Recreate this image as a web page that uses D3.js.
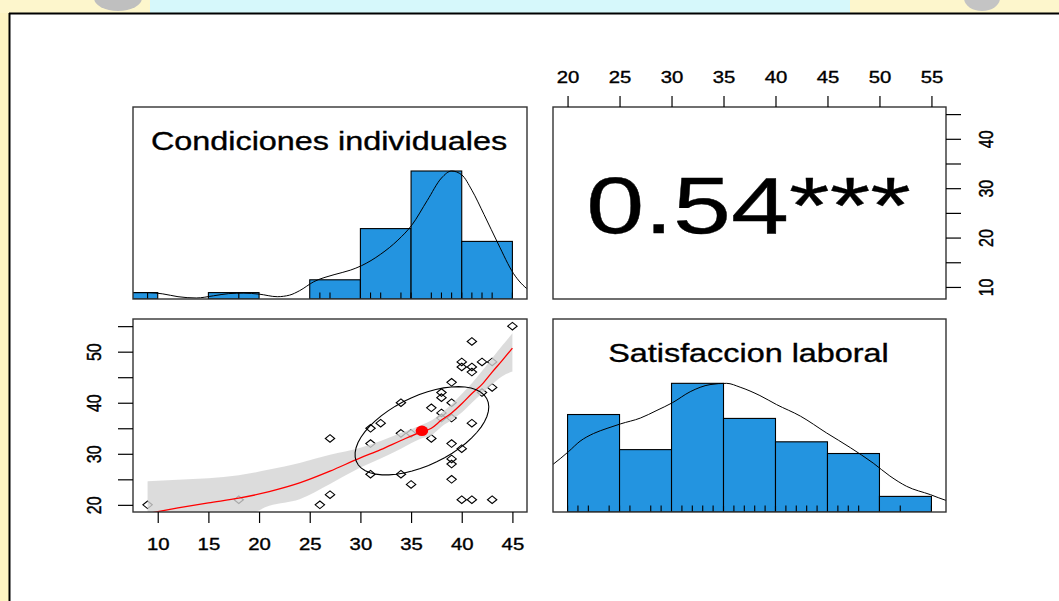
<!DOCTYPE html>
<html><head><meta charset="utf-8">
<script src="https://cdn.jsdelivr.net/npm/d3@7/dist/d3.min.js"></script>
<style>
html,body{margin:0;padding:0;background:#fff;overflow:hidden}
svg{display:block}
text{font-family:"Liberation Sans",Arial,Helvetica,sans-serif;fill:#000;stroke:#000;stroke-width:0.35px}
</style>
</head><body>
<svg id="chart" width="1059" height="601"></svg>
<script>
// ---------------- DATA ----------------
const varNames = ["Condiciones individuales", "Satisfaccion laboral"];
const correlationLabel = "0.54***";

// scatter points: x = Condiciones individuales, y = Satisfaccion laboral
const condX = [9,18,26,27,27,31,31,31,32,34,34,35,34,35,37,37,38,38,38,38,39,39,39,39,39,39,39,40,40,40,41,41,40,41,41,41,42,42,43,43,43,45];
const satY  = [20,21,20,22,33,26,32,35,36,40,34,34,26,24,39,33,42,41,38,37,44,40,37,32,29,28,25,31,48,47,47,46,21,52,36,21,48,42,48,43,21,55];

// histograms (counts per bin)
const condBreaks = [5,10,15,20,25,30,35,40,45];
const condCounts = [3,0,3,0,9,33,60,27];
const satBreaks  = [20,25,30,35,40,45,50,55];
const satCounts  = [25,16,33,24,18,15,4];

// density curves (scaled so the maximum is 1)
const condDensX = [6,7.5,9,10.5,12,13.8,15.5,17,18.5,20,21.8,23,24,25.4,27.4,29,30.1,32,33.7,35.1,36.6,38,39,40,41,42.2,43.6,45.1,46.6,48];
const condDensY = [0.04,0.05,0.05,0.04,0.018,0.008,0.025,0.042,0.046,0.038,0.018,0.03,0.065,0.135,0.19,0.225,0.26,0.35,0.46,0.58,0.77,0.945,1.0,0.97,0.85,0.66,0.43,0.2,0.07,0.02];
const satDensX  = [17,18.6,20.1,21.2,22.5,23.8,25.1,27.0,28.6,30.1,31.8,33.7,35.3,36.6,38.5,40.1,42.4,44.9,47.2,49.4,51.0,52.6,54.9,56.4,58];
const satDensY  = [0.28,0.37,0.47,0.55,0.61,0.65,0.685,0.73,0.79,0.85,0.935,0.99,1.0,0.97,0.905,0.835,0.745,0.615,0.5,0.38,0.28,0.2,0.135,0.09,0.06];

// loess fit with confidence band
const smoothX  = [9,12,15,18,21,24,27,30,32,34,36,37,38,39,40,41,42,43,44,45];
const smoothFit= [18.3,19.4,20.4,21.3,22.6,24.3,26.6,29.2,30.8,32.6,34.3,35.0,36.6,38.0,39.8,41.8,43.6,46.0,48.3,50.7];
const smoothLo = [12.0,14.0,15.8,17.0,19.8,21.1,24.1,27.3,29.1,31.0,33.0,33.6,35.3,36.6,38.1,40.0,41.8,43.6,45.2,46.1];
const smoothHi = [24.6,24.9,25.2,25.8,26.9,28.2,29.8,31.2,32.5,34.1,35.6,36.5,38.0,39.7,41.7,43.8,46.2,48.7,51.2,53.6];

// correlation ellipse: means, standard deviations, r
const ellipseMean = [36.07, 34.5];
const ellipseSD   = [6.6, 8.65];
const ellipseR    = 0.54;

// tick values and labels
const condTicks = [10,15,20,25,30,35,40,45];
const satTicks  = [20,25,30,35,40,45,50,55];
const condRightLabels = [10,20,30,40];
const satLeftLabels   = [20,30,40,50];

// ---------------- LAYOUT ----------------
const W = 1059, H = 601;
const SX = 1.27; // horizontal stretch of the original raster
const panels = {
  tl:{x0:133,x1:527,y0:107,y1:299},
  tr:{x0:553,x1:946,y0:107,y1:299},
  bl:{x0:133,x1:527,y0:319,y1:512},
  br:{x0:553,x1:946,y0:319,y1:512}
};
const svg = d3.select("#chart");

// background (page decoration around the frame)
const bg = svg.append("g");
bg.append("rect").attr("x",0).attr("y",0).attr("width",W).attr("height",H).attr("fill","#fff");
bg.append("rect").attr("x",0).attr("y",0).attr("width",10).attr("height",H).attr("fill","#fdf4c2");
bg.append("rect").attr("x",0).attr("y",0).attr("width",W).attr("height",13).attr("fill","#fdf6cc");
bg.append("rect").attr("x",150).attr("y",0).attr("width",700).attr("height",13).attr("fill","#d6f8fb");
bg.append("ellipse").attr("cx",118).attr("cy",-2).attr("rx",24).attr("ry",13).attr("fill","#bfbfbf");
bg.append("ellipse").attr("cx",982).attr("cy",-2).attr("rx",18).attr("ry",13).attr("fill","#c4c4c4");
// frame
bg.append("line").attr("x1",9).attr("x2",W).attr("y1",13.5).attr("y2",13.5).attr("stroke","#000").attr("stroke-width",2);
bg.append("line").attr("x1",9.5).attr("x2",9.5).attr("y1",13).attr("y2",H).attr("stroke","#000").attr("stroke-width",2);

function padDomain(arr){ const e = d3.extent(arr); const p = (e[1]-e[0])*0.04; return [e[0]-p, e[1]+p]; }
const condDom = padDomain(condX), satDom = padDomain(satY);

const defs = svg.append("defs");
Object.entries(panels).forEach(([k,p])=>{
  defs.append("clipPath").attr("id","clip-"+k).append("rect")
    .attr("x",p.x0).attr("y",p.y0).attr("width",p.x1-p.x0).attr("height",p.y1-p.y0);
});

function stretchedText(g, x, y, txt, size, anchor, sx){
  return g.append("text").attr("transform",`translate(${x},${y}) scale(${sx||SX},1)`)
    .attr("text-anchor",anchor||"middle").attr("font-size",size).text(txt);
}

// ---------------- HISTOGRAM PANELS ----------------
function histPanel(key, dom, breaks, counts, densX, densY, rugVals, title){
  const p = panels[key];
  const x = d3.scaleLinear().domain(dom).range([p.x0,p.x1]);
  const y = d3.scaleLinear().domain([0,1.5]).range([p.y1,p.y0]);
  const maxC = d3.max(counts);
  const g = svg.append("g");
  const gc = g.append("g").attr("clip-path",`url(#clip-${key})`);
  gc.selectAll("rect.bar").data(counts.map((c,i)=>({c,a:breaks[i],b:breaks[i+1]})).filter(d=>d.c>0))
    .join("rect").attr("class","bar")
    .attr("x",d=>x(d.a)).attr("width",d=>x(d.b)-x(d.a))
    .attr("y",d=>y(d.c/maxC)).attr("height",d=>y(0)-y(d.c/maxC))
    .attr("fill","#2394e0").attr("stroke","#000").attr("stroke-width",1.1);
  gc.selectAll("line.rug").data(rugVals).join("line").attr("class","rug")
    .attr("x1",d=>x(d)).attr("x2",d=>x(d)).attr("y1",p.y1).attr("y2",p.y1-6.5)
    .attr("stroke","#000").attr("stroke-width",1.1);
  const line = d3.line().x((d,i)=>x(densX[i])).y(d=>y(d)).curve(d3.curveMonotoneX);
  gc.append("path").attr("d",line(densY)).attr("fill","none").attr("stroke","#000").attr("stroke-width",1);
  stretchedText(g,(p.x0+p.x1)/2 - 1,p.y0+43,title,25.5,"middle");
  g.append("rect").attr("x",p.x0).attr("y",p.y0).attr("width",p.x1-p.x0).attr("height",p.y1-p.y0)
    .attr("fill","none").attr("stroke","#333").attr("stroke-width",1.4);
}
const uniq = a => Array.from(new Set(a)).sort((m,n)=>m-n);
histPanel("tl", condDom, condBreaks, condCounts, condDensX, condDensY, uniq(condX), varNames[0]);
histPanel("br", satDom, satBreaks, satCounts, satDensX, satDensY, uniq(satY), varNames[1]);

// ---------------- SCATTER PANEL ----------------
(function(){
  const p = panels.bl;
  const x = d3.scaleLinear().domain(condDom).range([p.x0,p.x1]);
  const y = d3.scaleLinear().domain(satDom).range([p.y1,p.y0]);
  const g = svg.append("g");
  const gc = g.append("g").attr("clip-path","url(#clip-bl)");
  const diamond = "M0,-3.8L4.7,0L0,3.8L-4.7,0Z";
  gc.selectAll("path.pt").data(condX.map((v,i)=>[v,satY[i]])).join("path").attr("class","pt")
    .attr("d",diamond).attr("transform",d=>`translate(${x(d[0])},${y(d[1])})`)
    .attr("fill","none").attr("stroke","#000").attr("stroke-width",1.1);
  const area = d3.area().x((d,i)=>x(smoothX[i])).y0((d,i)=>y(smoothLo[i])).y1((d,i)=>y(smoothHi[i])).curve(d3.curveMonotoneX);
  gc.append("path").attr("d",area(smoothX)).attr("fill","#d3d3d3").attr("fill-opacity",0.8);
  const fitLine = d3.line().x((d,i)=>x(smoothX[i])).y(d=>y(d)).curve(d3.curveMonotoneX);
  gc.append("path").attr("d",fitLine(smoothFit)).attr("fill","none").attr("stroke","#ff0000").attr("stroke-width",1.3);
  // ellipse (psych::draw.ellipse construction)
  const r = ellipseR, t = Math.sign(r)/Math.SQRT2;
  const a1 = Math.sqrt(1+r), a2 = Math.sqrt(1-r);
  const seg = 51;
  const pts = d3.range(seg+1).map(k=>{
    const ang = k*2*Math.PI/seg, c = Math.cos(ang), s = Math.sin(ang);
    const ex = c*a1*t - s*a2*t, ey = c*a1*t + s*a2*t;
    return [ex*ellipseSD[0]+ellipseMean[0], ey*ellipseSD[1]+ellipseMean[1]];
  });
  gc.append("ellipse").attr("cx",x(ellipseMean[0])).attr("cy",y(ellipseMean[1]))
    .attr("rx",6.3).attr("ry",5.2).attr("fill","#ff0000");
  gc.append("path").attr("d",d3.line().x(d=>x(d[0])).y(d=>y(d[1]))(pts))
    .attr("fill","none").attr("stroke","#000").attr("stroke-width",1.1);
  g.append("rect").attr("x",p.x0).attr("y",p.y0).attr("width",p.x1-p.x0).attr("height",p.y1-p.y0)
    .attr("fill","none").attr("stroke","#333").attr("stroke-width",1.4);

  // bottom axis
  const ax = g.append("g").attr("transform",`translate(0,${p.y1})`)
    .call(d3.axisBottom(x).tickValues(condTicks).tickSize(11).tickFormat(d3.format("d")));
  ax.select(".domain").remove();
  ax.selectAll(".tick line").attr("stroke","#000").attr("stroke-width",1.2);
  ax.selectAll(".tick text").attr("y",null).attr("dy",null).attr("x",null)
    .attr("transform",`translate(0,38) scale(${SX},1)`).attr("font-size",16).attr("font-family",null).attr("fill","#000");
  // left axis
  const ay = g.append("g").attr("transform",`translate(${p.x0},0)`)
    .call(d3.axisLeft(y).tickValues(satTicks).tickSize(15).tickFormat(d=>satLeftLabels.includes(d)?String(d):""));
  ay.select(".domain").remove();
  ay.selectAll(".tick line").attr("stroke","#000").attr("stroke-width",1.2);
  ay.selectAll(".tick text").attr("y",null).attr("dy",null).attr("x",null).attr("text-anchor","middle")
    .attr("transform",`translate(-32,0) scale(${SX},1) rotate(-90)`).attr("font-size",16).attr("font-family",null).attr("fill","#000");
})();

// ---------------- CORRELATION PANEL ----------------
(function(){
  const p = panels.tr;
  const x = d3.scaleLinear().domain(satDom).range([p.x0,p.x1]);
  const y = d3.scaleLinear().domain(condDom).range([p.y1,p.y0]);
  const g = svg.append("g");
  stretchedText(g,(p.x0+p.x1)/2 - 1,233,correlationLabel,79,"middle",1.32);
  g.append("rect").attr("x",p.x0).attr("y",p.y0).attr("width",p.x1-p.x0).attr("height",p.y1-p.y0)
    .attr("fill","none").attr("stroke","#333").attr("stroke-width",1.4);
  const ax = g.append("g").attr("transform",`translate(0,${p.y0})`)
    .call(d3.axisTop(x).tickValues(satTicks).tickSize(11).tickFormat(d3.format("d")));
  ax.select(".domain").remove();
  ax.selectAll(".tick line").attr("stroke","#000").attr("stroke-width",1.2);
  ax.selectAll(".tick text").attr("y",null).attr("dy",null).attr("x",null)
    .attr("transform",`translate(0,-24) scale(${SX},1)`).attr("font-size",16).attr("font-family",null).attr("fill","#000");
  const ay = g.append("g").attr("transform",`translate(${p.x1},0)`)
    .call(d3.axisRight(y).tickValues(condTicks).tickSize(15).tickFormat(d=>condRightLabels.includes(d)?String(d):""));
  ay.select(".domain").remove();
  ay.selectAll(".tick line").attr("stroke","#000").attr("stroke-width",1.2);
  ay.selectAll(".tick text").attr("y",null).attr("dy",null).attr("x",null).attr("text-anchor","middle")
    .attr("transform",`translate(47,0) scale(${SX},1) rotate(-90)`).attr("font-size",16).attr("font-family",null).attr("fill","#000");
})();
</script>
</body></html>
